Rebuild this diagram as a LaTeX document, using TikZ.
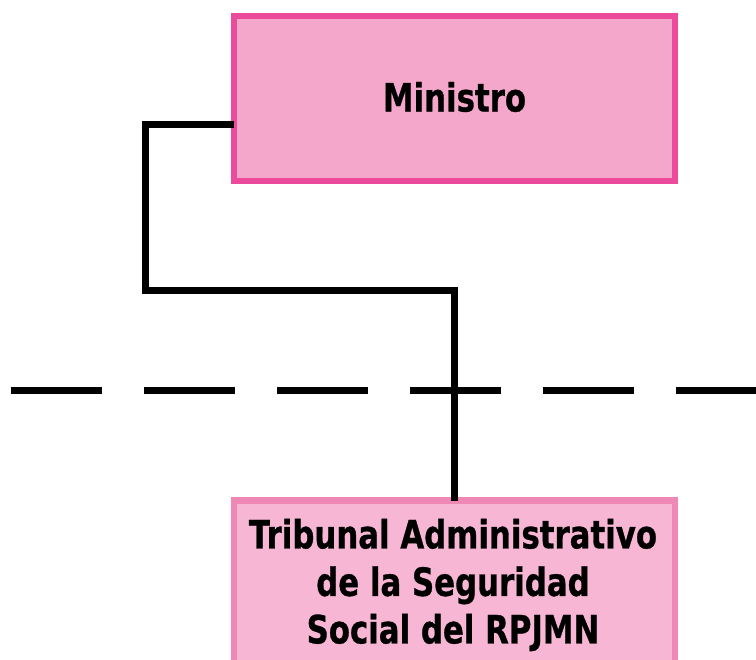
\documentclass[tikz,border=0pt]{standalone}
\usepackage{fontspec}
\newfontfamily\boxfont{DejaVu Sans}[FakeStretch=0.79, BoldFeatures={FakeBold=0.8}]
\definecolor{minborder}{HTML}{EC4A9B}
\definecolor{minfill}{HTML}{F4A7CA}
\definecolor{tribborder}{HTML}{F088B5}
\definecolor{tribfill}{HTML}{F6B6D4}
\tikzset{
  minbox/.style={draw=minborder, fill=minfill, line width=6pt, rectangle, inner sep=0pt},
  tribbox/.style={draw=tribborder, fill=tribfill, line width=6.5pt, rectangle, inner sep=0pt},
  boxtext/.style={font=\boxfont\bfseries\fontsize{39}{47.5}\selectfont, align=center, inner sep=0pt},
  conn/.style={draw=black, line width=7pt, line join=miter},
  divider/.style={draw=black, line width=7pt, dash pattern=on 91pt off 42pt}
}
\begin{document}
\begin{tikzpicture}[x=1pt, y=-1pt]
\useasboundingbox (0,0) rectangle (756,660);
\clip (0,0) rectangle (756,660);
% boxes
\node[minbox, minimum width=441pt, minimum height=165.6pt] (ministro) at (454.5,98.5) {};
\node[boxtext] (ministrotext) at ([yshift=1.5pt]ministro.center) {Ministro};
\node[tribbox, minimum width=441pt, minimum height=220pt] (tribunal) at (454.5,610.7) {};
\node[boxtext] (tribunaltext) at (453,585) {Tribunal Administrativo\\de la Seguridad\\Social del RPJMN};
% divider line
\coordinate (dl) at (11,391);
\coordinate (dr) at (780,391);
\draw[divider] (dl) -- (dr);
% connector
\coordinate (bend) at (145,290.5);
\draw[conn] ([xshift=2.7pt,yshift=-26pt]ministro.west) -| (bend) -| ([yshift=-3.3pt]tribunal.north);
\end{tikzpicture}
\end{document}
